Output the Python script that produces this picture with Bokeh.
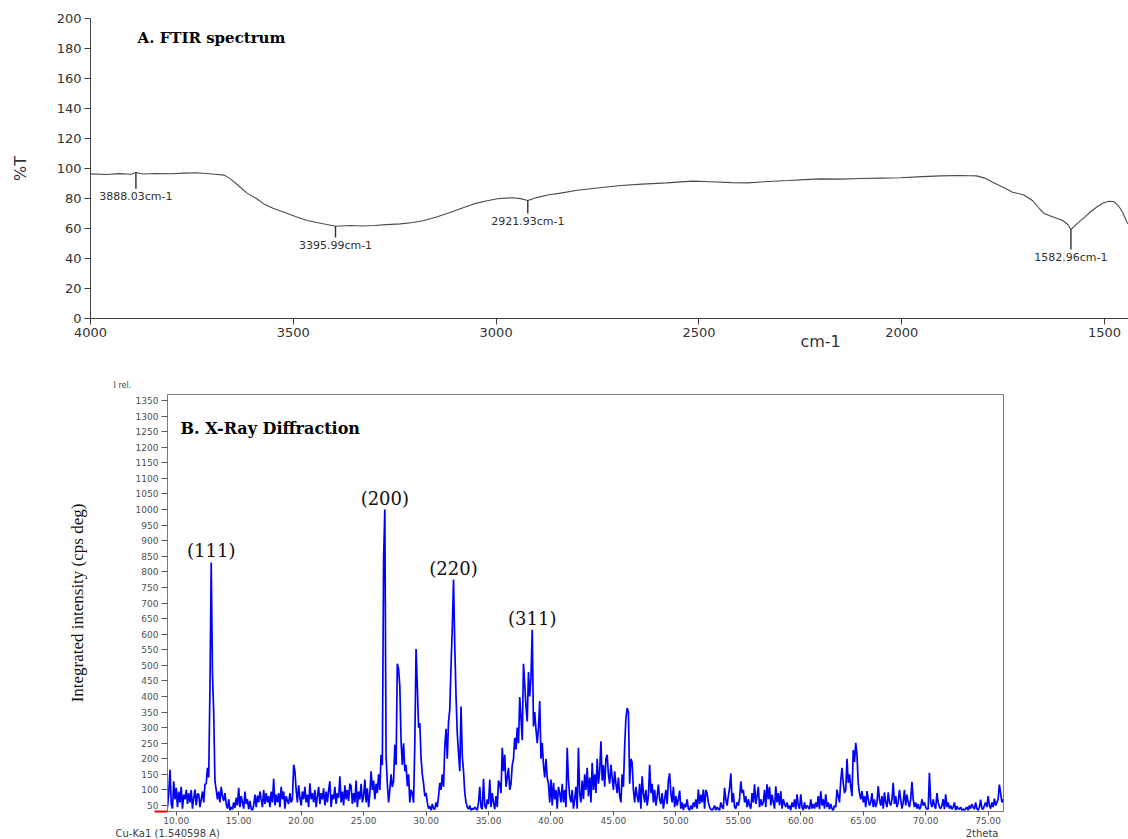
from bokeh.plotting import figure
from bokeh.layouts import column, row
from bokeh.models import Label, Range1d, FixedTicker, PrintfTickFormatter, Title
from bokeh.embed import file_html
from bokeh.resources import INLINE
from bokeh.core.properties import value

# ---------------- FTIR data ----------------
FTIR_WN = [4000, 3960, 3930, 3900, 3888, 3870, 3840, 3800, 3770, 3740, 3700, 3670,
           3655, 3635, 3614, 3590, 3573, 3550, 3523, 3495, 3466, 3430, 3395, 3360,
           3330, 3300, 3270, 3236, 3205, 3178, 3145, 3112, 3085, 3055, 3025, 2997,
           2960, 2940, 2922, 2900, 2870, 2841, 2800, 2750, 2693, 2640, 2580, 2516,
           2470, 2420, 2378, 2330, 2280, 2240, 2200, 2150, 2100, 2050, 2003, 1950,
           1904, 1860, 1830, 1816, 1795, 1776, 1750, 1727, 1700, 1678, 1660, 1648,
           1625, 1603, 1590, 1583, 1570, 1549, 1535, 1520, 1505, 1490, 1478, 1466,
           1455, 1443]
FTIR_T = [96.4, 96.0, 96.6, 96.2, 97.3, 96.3, 96.7, 96.5, 96.9, 97.2, 96.3, 95.6,
          93.1, 88.5, 83.6, 79.8, 76.4, 73.5, 70.9, 68.0, 65.3, 63.3, 61.5, 62.0,
          61.7, 62.0, 62.6, 63.1, 64.0, 65.3, 67.8, 70.9, 73.5, 76.4, 78.3, 79.8,
          80.5, 79.9, 78.7, 80.6, 82.5, 83.6, 85.5, 87.0, 88.7, 89.6, 90.4, 91.6,
          91.2, 90.6, 90.4, 91.3, 92.0, 92.6, 93.1, 92.9, 93.3, 93.6, 93.8, 94.6,
          95.1, 95.3, 95.2, 95.1, 93.6, 90.9, 87.5, 84.2, 82.5, 78.7, 73.0, 69.8,
          67.5, 65.3, 62.5, 59.3, 62.8, 67.6, 71.0, 74.2, 76.8, 78.2, 78.0, 75.3,
          70.5, 63.1]
FTIR_PEAK_WN = [3888.03, 3395.99, 2921.93, 1582.96]
FTIR_PEAK_T = [97.3, 61.5, 78.7, 59.3]
FTIR_PEAK_END = [86.5, 54.0, 70.0, 46.0]
FTIR_PEAK_LABELS = ["3888.03cm-1", "3395.99cm-1", "2921.93cm-1", "1582.96cm-1"]
FTIR_X_TICKS = [4000, 3500, 3000, 2500, 2000, 1500]
FTIR_Y_TICKS = [0, 20, 40, 60, 80, 100, 120, 140, 160, 180, 200]
FTIR_X_TITLE = "cm-1"
FTIR_Y_TITLE = "%T"

# ---------------- XRD data, 2theta from 9.0 step 0.1 ----------------
XRD_START = 9.0
XRD_STEP = 0.1
XRD_I = [
    50, 40, 60, 45, 90, 165, 55, 40, 128, 70,          # 9
    107, 45, 95, 60, 110, 40, 85, 70, 100, 55,         # 10
    90, 60, 100, 40, 75, 101, 50, 88, 86, 45,          # 11
    70, 95, 60, 118, 120, 171, 140, 432, 830, 474,     # 12
    346, 128, 100, 70, 95, 60, 110, 80, 65, 90,        # 13
    55, 40, 70, 35, 45, 38, 60, 42, 75, 50,            # 14
    107, 45, 80, 60, 40, 95, 55, 70, 38, 65,           # 15
    40, 35, 50, 85, 45, 82, 60, 95, 70, 45,            # 16
    100, 55, 90, 60, 80, 45, 95, 60, 136, 50,          # 17
    85, 60, 90, 45, 110, 70, 95, 40, 80, 65,           # 18
    55, 90, 60, 70, 181, 160, 100, 60, 115, 75,        # 19
    50, 95, 70, 110, 60, 85, 45, 121, 70, 90,          # 20
    60, 100, 45, 80, 110, 55, 90, 70, 105, 50,         # 21
    95, 60, 100, 128, 45, 85, 70, 110, 55, 90,         # 22
    75, 144, 60, 95, 50, 115, 70, 100, 65, 120,        # 23
    112, 55, 90, 60, 130, 45, 95, 70, 120, 60,         # 24
    80, 133, 60, 105, 45, 90, 160, 100, 130, 70,       # 25
    120, 90, 150, 100, 213, 180, 840, 1000, 208, 120,  # 26
    60, 100, 150, 110, 128, 245, 180, 505, 488, 432,   # 27
    256, 180, 250, 160, 181, 112, 150, 60, 100, 90,    # 28
    59, 250, 552, 432, 300, 315, 203, 150, 120, 80,    # 29
    91, 60, 40, 48, 35, 55, 40, 38, 60, 45,            # 30
    80, 123, 100, 150, 110, 240, 296, 200, 320, 358,   # 31
    500, 620, 775, 560, 400, 280, 219, 160, 368, 208,  # 32
    160, 91, 60, 45, 38, 50, 35, 40, 38, 45,           # 33
    40, 35, 60, 110, 45, 38, 136, 50, 40, 70,          # 34
    55, 133, 45, 90, 60, 38, 80, 45, 130, 120,         # 35
    90, 235, 160, 213, 110, 140, 171, 100, 120, 180,   # 36
    200, 267, 230, 300, 250, 398, 331, 260, 505, 440,  # 37
    368, 320, 478, 400, 460, 614, 304, 350, 294, 250,  # 38
    300, 385, 200, 251, 180, 140, 200, 139, 120, 60,   # 39
    133, 50, 123, 70, 100, 40, 110, 90, 60, 120,       # 40
    60, 100, 45, 235, 130, 80, 60, 100, 40, 70,        # 41
    110, 40, 235, 90, 60, 130, 70, 150, 100, 171,      # 42
    80, 140, 60, 187, 100, 150, 90, 200, 120, 160,     # 43
    256, 130, 180, 110, 200, 213, 150, 120, 181, 140,  # 44
    100, 160, 120, 90, 140, 80, 60, 150, 110, 240,     # 45
    330, 363, 350, 120, 200, 187, 100, 60, 110, 80,    # 46
    60, 120, 40, 144, 90, 60, 100, 50, 80, 181,        # 47
    90, 120, 60, 100, 50, 80, 117, 70, 55, 90,         # 48
    40, 70, 100, 55, 130, 153, 90, 60, 110, 45,        # 49
    80, 50, 70, 98, 40, 60, 35, 55, 45, 70,            # 50
    40, 35, 50, 38, 60, 45, 70, 40, 101, 55,           # 51
    85, 60, 101, 40, 100, 90, 60, 45, 38, 35,          # 52
    40, 50, 35, 45, 38, 35, 60, 45, 40, 107,           # 53
    70, 50, 80, 107, 153, 60, 90, 45, 40, 60,          # 54
    50, 70, 128, 90, 100, 60, 80, 45, 70, 50,          # 55
    40, 90, 60, 118, 55, 80, 110, 45, 70, 50,          # 56
    60, 100, 45, 118, 70, 110, 50, 85, 60, 40,         # 57
    112, 60, 90, 50, 96, 40, 70, 55, 45, 60,           # 58
    40, 50, 35, 60, 45, 70, 38, 86, 50, 40,            # 59
    86, 45, 35, 60, 40, 50, 45, 38, 70, 40,            # 60
    55, 40, 60, 45, 80, 38, 96, 50, 70, 40,            # 61
    86, 45, 60, 38, 55, 40, 35, 50, 45, 101,           # 62
    80, 60, 130, 171, 123, 90, 100, 200, 123, 150,     # 63
    110, 80, 228, 190, 251, 213, 120, 90, 70, 96,      # 64
    60, 80, 45, 96, 70, 50, 60, 90, 45, 70,            # 65
    45, 60, 112, 70, 50, 80, 40, 92, 60, 45,           # 66
    92, 60, 50, 70, 123, 55, 80, 45, 60, 100,          # 67
    70, 40, 60, 100, 50, 85, 60, 45, 70, 126,          # 68
    70, 45, 60, 40, 55, 38, 45, 70, 50, 60,            # 69
    45, 38, 40, 155, 60, 45, 70, 50, 40, 90,           # 70
    60, 45, 40, 50, 70, 38, 86, 45, 60, 40,            # 71
    50, 38, 45, 60, 35, 48, 40, 38, 45, 35,            # 72
    38, 35, 40, 45, 35, 50, 40, 55, 45, 38,            # 73
    60, 40, 35, 45, 69, 40, 38, 50, 60, 45,            # 74
    80, 50, 40, 60, 45, 72, 50, 60, 70, 117,           # 75
    90, 60, 70,                                        # 76
]
XRD_2THETA = [round(XRD_START + XRD_STEP * i, 2) for i in range(len(XRD_I))]
XRD_HKL = ["(111)", "(200)", "(220)", "(311)"]
XRD_HKL_THETA = [12.8, 26.7, 32.2, 38.5]
XRD_HKL_I = [830, 1000, 775, 614]
XRD_X_TICKS = [10, 15, 20, 25, 30, 35, 40, 45, 50, 55, 60, 65, 70, 75]
XRD_Y_TICKS = list(range(50, 1351, 50))
XRD_Y_TITLE = "Integrated intensity (cps deg)"
XRD_UNIT_TOP = "I rel."
XRD_WAVELENGTH = "Cu-Ka1 (1.540598 A)"
XRD_X_TITLE = "2theta"

# ---------------- Panel A: FTIR ----------------
p1 = figure(width=1128, height=355, x_range=Range1d(4000, 1441), y_range=Range1d(0, 200),
            output_backend="svg", toolbar_location=None,
            min_border_left=90, min_border_right=0, min_border_top=18, min_border_bottom=37)
p1.outline_line_color = None
p1.xgrid.grid_line_color = None
p1.ygrid.grid_line_color = None

p1.line(FTIR_WN, FTIR_T, line_color="#4a4a4a", line_width=1.1)
p1.segment(x0=FTIR_PEAK_WN, y0=FTIR_PEAK_T, x1=FTIR_PEAK_WN, y1=FTIR_PEAK_END,
           line_color="#303030", line_width=1.4)
p1.text(x=FTIR_PEAK_WN, y=FTIR_PEAK_END, text=FTIR_PEAK_LABELS, text_align="center",
        text_baseline="top", text_font=value("DejaVu Sans"), text_font_size="11px",
        text_color="#303030", y_offset=1)

for ax in (p1.xaxis[0], p1.yaxis[0]):
    ax.axis_line_color = "#404040"
    ax.major_tick_line_color = "#404040"
    ax.minor_tick_line_color = None
    ax.major_tick_in = 0
    ax.major_tick_out = 6
    ax.major_label_text_font = "DejaVu Sans"
    ax.major_label_text_font_size = "13px"
    ax.major_label_text_color = "#333333"
    ax.major_label_standoff = 3
    ax.axis_label_text_font = "DejaVu Sans"
    ax.axis_label_text_font_style = "normal"
    ax.axis_label_text_font_size = "16px"
    ax.axis_label_text_color = "#333333"
p1.xaxis.ticker = FixedTicker(ticks=FTIR_X_TICKS)
p1.yaxis.ticker = FixedTicker(ticks=FTIR_Y_TICKS)
p1.yaxis.axis_label = FTIR_Y_TITLE
p1.yaxis.axis_label_standoff = 24
# x title sits right of centre in the reference: pad with no-break spaces on the left
p1.xaxis.axis_label = "\u00a0" * 83 + FTIR_X_TITLE
p1.xaxis.axis_label_standoff = -8

p1.add_layout(Label(x=3884, y=186.7, text="A. FTIR spectrum", text_align="left",
                    text_baseline="middle", text_font="DejaVu Serif", text_font_style="bold",
                    text_font_size="15px", text_color="black"))

# ---------------- Panel B: XRD ----------------
p2 = figure(width=1128, height=471, x_range=Range1d(9.3, 76.23), y_range=Range1d(30.8, 1369.2),
            output_backend="svg", toolbar_location=None,
            min_border_left=167, min_border_right=125, min_border_top=39, min_border_bottom=14)
p2.outline_line_color = "#7a7a7a"
p2.outline_line_width = 1
p2.xgrid.grid_line_color = None
p2.ygrid.grid_line_color = None

p2.line(XRD_2THETA, XRD_I, line_color="#0000ff", line_width=1.7)
p2.text(x=XRD_HKL_THETA, y=XRD_HKL_I, text=XRD_HKL, text_align="center", text_baseline="bottom",
        text_font=value("DejaVu Serif"), text_font_size="18px", text_color="#111111", y_offset=-1)

for ax in (p2.xaxis[0], p2.yaxis[0]):
    ax.axis_line_color = "#7a7a7a"
    ax.major_tick_line_color = "#555555"
    ax.major_tick_in = 0
    ax.major_label_text_font = "DejaVu Sans"
    ax.major_label_text_font_size = "9px"
    ax.major_label_text_color = "#505050"
p2.xaxis.minor_tick_line_color = None
p2.yaxis.major_tick_out = 6
p2.xaxis.major_tick_out = 4
p2.xaxis.major_label_standoff = 1
p2.xaxis.ticker = FixedTicker(ticks=XRD_X_TICKS)
p2.xaxis.formatter = PrintfTickFormatter(format="%.2f")
# red marker at the foot of the intensity axis (as in the instrument plot)
p2.yaxis.ticker = FixedTicker(ticks=XRD_Y_TICKS, minor_ticks=[31.0])
p2.yaxis.minor_tick_line_color = "#ff0000"
p2.yaxis.minor_tick_line_width = 2
p2.yaxis.minor_tick_in = 0
p2.yaxis.minor_tick_out = 13
# labels are offset from the longest (red) tick; pull them back next to the short ticks
p2.yaxis.major_label_standoff = -4
p2.yaxis.axis_label = XRD_Y_TITLE
p2.yaxis.axis_label_text_font = "Liberation Serif"
p2.yaxis.axis_label_text_font_style = "normal"
p2.yaxis.axis_label_text_font_size = "17px"
p2.yaxis.axis_label_text_color = "#111111"
p2.yaxis.axis_label_standoff = 46

p2.add_layout(Title(text=XRD_UNIT_TOP, align="left", offset=-54, standoff=9,
                    text_font="DejaVu Sans", text_font_size="8px", text_font_style="normal",
                    text_color="#404040"), "above")

p2.add_layout(Label(x=10.34, y=1260, text="B. X-Ray Diffraction", text_align="left",
                    text_baseline="middle", text_font="DejaVu Serif", text_font_style="bold",
                    text_font_size="16px", text_color="black"))

# ---------------- bottom strip with wavelength and x title ----------------
p3 = figure(width=1128, height=13, x_range=Range1d(0, 1128), y_range=Range1d(0, 1),
            output_backend="svg", toolbar_location=None,
            min_border_left=0, min_border_right=0, min_border_top=0, min_border_bottom=0)
p3.axis.visible = False
p3.grid.visible = False
p3.outline_line_color = None
p3.add_layout(Label(x=115, y=0.5, text=XRD_WAVELENGTH, text_align="left", text_baseline="middle",
                    text_font="DejaVu Sans", text_font_size="10px", text_color="#404040"))
p3.add_layout(Label(x=998, y=0.5, text=XRD_X_TITLE, text_align="right", text_baseline="middle",
                    text_font="DejaVu Sans", text_font_size="10px", text_color="#404040"))

layout = column(row(p1), row(p2), row(p3), spacing=0)
open("out.html", "w").write(file_html(layout, INLINE))
